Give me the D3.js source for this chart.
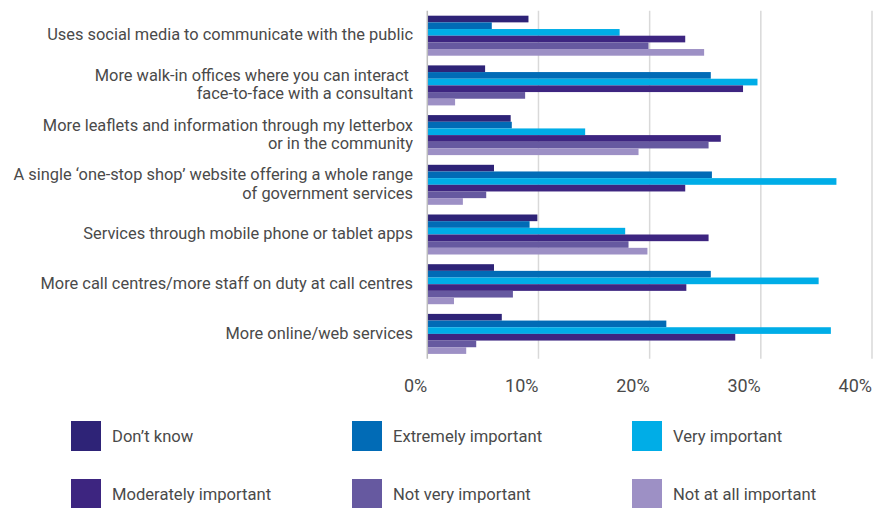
<!DOCTYPE html>
<html>
<head>
<meta charset="utf-8">
<script src="https://cdn.jsdelivr.net/npm/d3@7"></script>
<style>
  html, body { margin: 0; padding: 0; background: #fff; }
  svg { display: block; font-family: Roboto, "Open Sans", sans-serif; }
</style>
</head>
<body>
<svg id="chart" width="882" height="508"></svg>
<script>
// Survey options (each entry is an array of label lines)
const categories = [
  ["Uses social media to communicate with the public"],
  ["More walk-in offices where you can interact ", "face-to-face with a consultant"],
  ["More leaflets and information through my letterbox", "or in the community"],
  ["A single \u2018one-stop shop\u2019 website offering a whole range", "of government services"],
  ["Services through mobile phone or tablet apps"],
  ["More call centres/more staff on duty at call centres"],
  ["More online/web services"]
];

const seriesNames = ["Don\u2019t know", "Extremely important", "Very important",
                     "Moderately important", "Not very important", "Not at all important"];

// Percent of respondents, one array per series, in category order
const dontKnow            = [9.1, 5.2, 7.5, 6.0, 9.9, 6.0, 6.7];
const extremelyImportant  = [5.8, 25.5, 7.6, 25.6, 9.2, 25.5, 21.5];
const veryImportant       = [17.3, 29.7, 14.2, 36.8, 17.8, 35.2, 36.3];
const moderatelyImportant = [23.2, 28.4, 26.4, 23.2, 25.3, 23.3, 27.7];
const notVeryImportant    = [19.9, 8.8, 25.3, 5.3, 18.1, 7.7, 4.4];
const notAtAllImportant   = [24.9, 2.5, 19.0, 3.2, 19.8, 2.4, 3.5];

const seriesValues = [dontKnow, extremelyImportant, veryImportant,
                      moderatelyImportant, notVeryImportant, notAtAllImportant];

const xTicks = [0, 10, 20, 30, 40];

const colors = ["#2e2377", "#016bb6", "#00ade7", "#3d2580", "#6659a0", "#9d90c5"];

const svg = d3.select("#chart");

const x = d3.scaleLinear().domain([0, 40]).range([427.3, 872]);

const catIdx = d3.range(categories.length);
const y = d3.scaleBand().domain(catIdx).range([10.85, 358.75])
  .paddingInner(0.195).paddingOuter(0.0975);
const ySub = d3.scaleBand().domain(d3.range(seriesNames.length)).range([0, y.bandwidth()]);

// Vertical gridlines
svg.append("g").selectAll("line").data(xTicks.slice(1)).join("line")
  .attr("x1", d => x(d)).attr("x2", d => x(d))
  .attr("y1", y.range()[0]).attr("y2", y.range()[1])
  .attr("stroke", "#d9d9d9").attr("stroke-width", 1.5);

// Bars
const groups = svg.append("g").selectAll("g").data(catIdx).join("g")
  .attr("transform", i => `translate(0,${y(i)})`);

groups.selectAll("rect")
  .data(i => seriesValues.map((vals, s) => ({ s, v: vals[i] })))
  .join("rect")
  .attr("x", x(0))
  .attr("y", d => ySub(d.s))
  .attr("width", d => x(d.v) - x(0))
  .attr("height", ySub.bandwidth())
  .attr("fill", d => colors[d.s]);

// Zero axis line
svg.append("line")
  .attr("x1", x(0)).attr("x2", x(0))
  .attr("y1", y.range()[0]).attr("y2", y.range()[1])
  .attr("stroke", "#bdbdbd").attr("stroke-width", 1.5);

// Category labels
const lineH = 18.5;
svg.append("g").selectAll("text").data(catIdx).join("text")
  .attr("text-anchor", "end")
  .attr("fill", "#4a4a4a")
  .attr("font-size", 16.4)
  .style("white-space", "pre")
  .each(function(i) {
    const lines = categories[i];
    const cy = y(i) + y.bandwidth() / 2 - 1;
    const t = d3.select(this);
    lines.forEach((ln, k) => {
      t.append("tspan")
        .attr("x", 413)
        .attr("y", cy + (k - (lines.length - 1) / 2) * lineH)
        .attr("dy", "0.35em")
        .text(ln);
    });
  });

// X tick labels
svg.append("g").selectAll("text").data(xTicks).join("text")
  .attr("x", d => x(d))
  .attr("y", 385.5)
  .attr("dy", "0.35em")
  .attr("text-anchor", "end")
  .attr("fill", "#4a4a4a")
  .attr("font-size", 18)
  .text(d => d + "%");

// Legend: 3 columns x 2 rows
const legCols = [71, 352, 632];
const legRows = [421, 479];
const leg = svg.append("g").selectAll("g").data(seriesNames).join("g")
  .attr("transform", (d, i) => `translate(${legCols[i % 3]},${legRows[Math.floor(i / 3)]})`);
leg.append("rect").attr("width", 30).attr("height", 30).attr("fill", (d, i) => colors[i]);
leg.append("text")
  .attr("x", 41).attr("y", 15).attr("dy", "0.35em")
  .attr("fill", "#4a4a4a").attr("font-size", 16.6)
  .text(d => d);
</script>
</body>
</html>
